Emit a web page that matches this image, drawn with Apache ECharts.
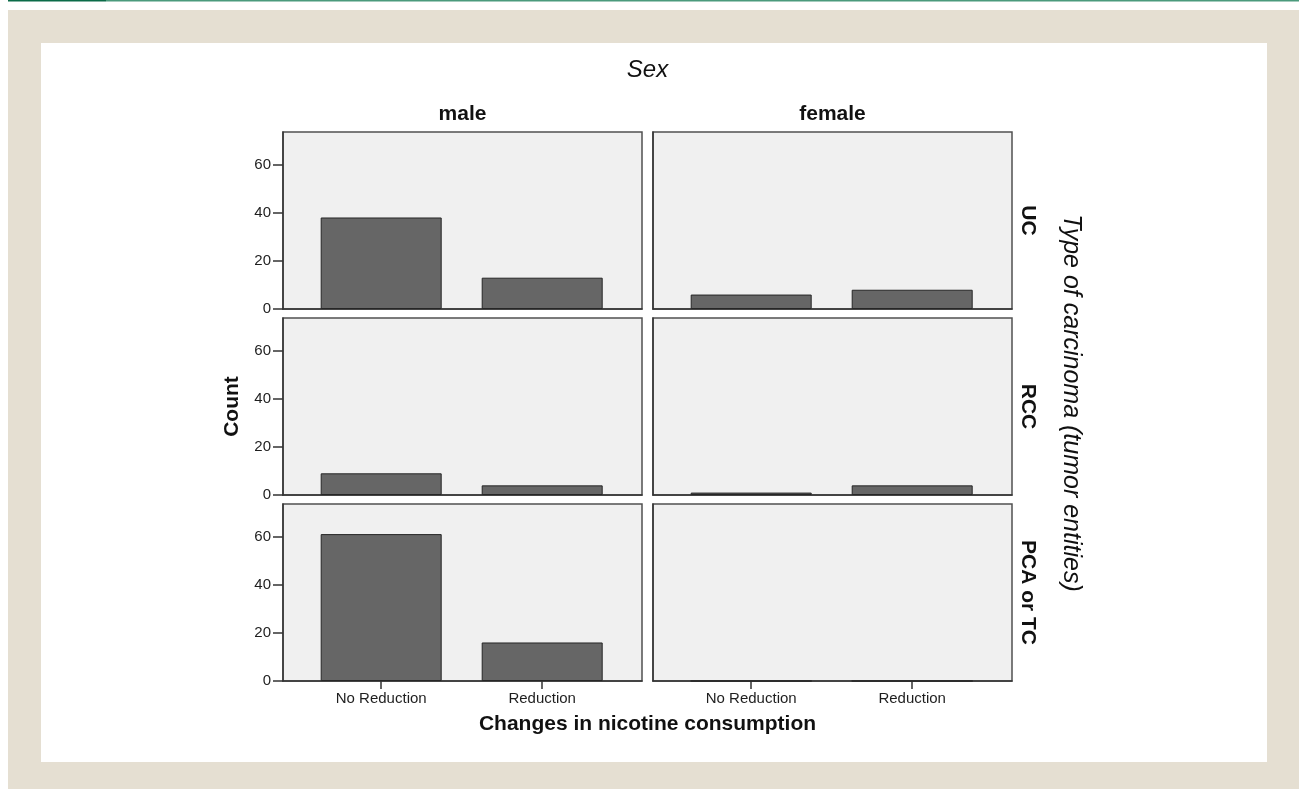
<!DOCTYPE html>
<html>
<head>
<meta charset="utf-8">
<script src="https://cdn.jsdelivr.net/npm/echarts@6/dist/echarts.min.js"></script>
<style>
  html, body { margin: 0; padding: 0; background: #ffffff; }
  #chart { width: 1299px; height: 789px; }
</style>
</head>
<body>
<div id="chart"></div>
<script>
// Changes in nicotine consumption by sex (columns) and type of carcinoma (rows)
const categories = ['No Reduction', 'Reduction'];
const sexes = ['male', 'female'];
const carcinomaTypes = ['UC', 'RCC', 'PCA or TC'];
const countTicks = [0, 20, 40, 60];

// counts per panel: [No Reduction, Reduction]
const ucMale = [38, 13];
const ucFemale = [6, 8];
const rccMale = [9, 4];
const rccFemale = [1, 4];
const pcaMale = [61, 16];
const pcaFemale = [0, 0];

const panelCounts = [
  [ucMale, ucFemale],
  [rccMale, rccFemale],
  [pcaMale, pcaFemale]
];

// panel layout (pixels)
const colLeft = [283, 653];
const panelW = 359;
const rowTop = [132, 318, 504];
const panelH = 177;
const yMax = 73.5;

const TEXT = '#1e1e1e';
const AXIS = '#333333';
const sans = '"Liberation Sans", Arial, sans-serif';

const grids = [], xAxes = [], yAxes = [], series = [];
let idx = 0;
for (let r = 0; r < carcinomaTypes.length; r++) {
  for (let c = 0; c < sexes.length; c++) {
    const bottomRow = r === carcinomaTypes.length - 1;
    const leftCol = c === 0;
    grids.push({
      left: colLeft[c], top: rowTop[r], width: panelW, height: panelH,
      show: true, backgroundColor: '#f0f0f0',
      borderColor: '#505050', borderWidth: 1.5, containLabel: false
    });
    xAxes.push({
      gridIndex: idx, type: 'value', min: -0.61, max: 1.62,
      splitLine: { show: false },
      axisLine: { show: true, onZero: false, lineStyle: { color: AXIS, width: 1.5 } },
      axisTick: { show: bottomRow, customValues: [0, 1], length: 8, lineStyle: { color: AXIS, width: 1.5 } },
      axisLabel: {
        show: bottomRow, customValues: [0, 1], margin: 10,
        formatter: v => categories[Math.round(v)],
        color: TEXT, fontSize: 15, fontFamily: sans
      }
    });
    yAxes.push({
      gridIndex: idx, type: 'value', min: 0, max: yMax,
      splitLine: { show: false },
      axisLine: { show: true, onZero: false, lineStyle: { color: AXIS, width: 1.5 } },
      axisTick: { show: leftCol, customValues: countTicks, length: 10, lineStyle: { color: AXIS, width: 1.5 } },
      axisLabel: {
        show: leftCol, customValues: countTicks, margin: 12,
        color: TEXT, fontSize: 15, fontFamily: sans
      }
    });
    const vals = panelCounts[r][c];
    series.push({
      type: 'bar', xAxisIndex: idx, yAxisIndex: idx,
      barWidth: 121, silent: true,
      itemStyle: { color: '#666666', borderColor: '#262626', borderWidth: 1 },
      data: categories.map((_, i) => [i, vals[i]])
    });
    idx++;
  }
}

const midX = (colLeft[0] + colLeft[1] + panelW) / 2;
const midY = (rowTop[0] + rowTop[2] + panelH) / 2;
const boldFont = 'bold 21px ' + sans;
const italicFont = 'italic 24px ' + sans;
const sideTitleFont = 'italic 25px ' + sans;

const texts = [
  { text: 'Sex', x: midX, y: 70, font: italicFont, rot: 0 },
  { text: sexes[0], x: colLeft[0] + panelW / 2, y: 114, font: boldFont, rot: 0 },
  { text: sexes[1], x: colLeft[1] + panelW / 2, y: 114, font: boldFont, rot: 0 },
  { text: 'Count', x: 232, y: midY, font: boldFont, rot: Math.PI / 2 },
  { text: 'Changes in nicotine consumption', x: midX, y: 724, font: boldFont, rot: 0 },
  { text: 'Type of carcinoma (tumor entities)', x: 1071, y: 403, font: sideTitleFont, rot: -Math.PI / 2 }
];
carcinomaTypes.forEach((t, r) => {
  texts.push({ text: t, x: 1028, y: rowTop[r] + panelH / 2, font: boldFont, rot: -Math.PI / 2 });
});

const graphics = [
  // page frame
  { type: 'rect', z: -100, shape: { x: 8, y: 0, width: 98, height: 1.5 }, style: { fill: '#0b6b48' } },
  { type: 'rect', z: -100, shape: { x: 106, y: 0, width: 1193, height: 1.5 }, style: { fill: '#4b9a7c' } },
  { type: 'rect', z: -100, shape: { x: 8, y: 10, width: 1291, height: 779 }, style: { fill: '#e5dfd2' } },
  { type: 'rect', z: -99, shape: { x: 41, y: 43, width: 1226, height: 719 }, style: { fill: '#ffffff' } }
];
texts.forEach(t => {
  graphics.push({
    type: 'text', x: t.x, y: t.y, rotation: t.rot, z: 10,
    style: { text: t.text, font: t.font, fill: '#111111', textAlign: 'center', textVerticalAlign: 'middle' }
  });
});

const chart = echarts.init(document.getElementById('chart'), null, { renderer: 'canvas' });
chart.setOption({
  animation: false,
  backgroundColor: '#ffffff',
  grid: grids,
  xAxis: xAxes,
  yAxis: yAxes,
  series: series,
  graphic: { elements: graphics }
});
</script>
</body>
</html>
